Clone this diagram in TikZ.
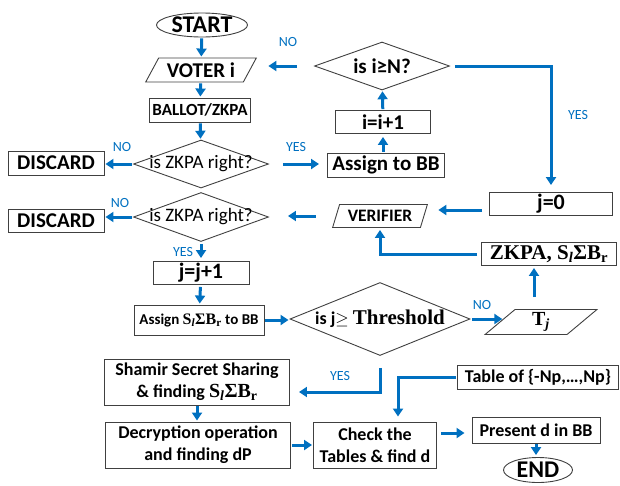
\documentclass[tikz,border=0pt]{standalone}
\usepackage[no-math]{fontspec}
\setmainfont{Carlito}
\newfontfamily\serifb{Liberation Serif}
\usetikzlibrary{arrows.meta,shapes.geometric}
\definecolor{flowblue}{RGB}{0,112,192}
\def\fs#1#2{\fontsize{#1}{#2}\selectfont}
\def\nowidth#1{\makebox[0pt]{#1}}
\def\sumB{{\serifb\bfseries S\textsubscript{\itshape l}ΣB\textsubscript{r}}}
\tikzset{
  box/.style={draw=black!75, line width=0.9pt, inner sep=0pt, align=center},
  term/.style={box, ellipse},
  io/.style={box, trapezium, trapezium stretches=true},
  choice/.style={box, diamond},
  flow/.style={draw=flowblue, line width=3pt, -{Triangle[length=8pt,width=10pt]}, shorten <=1pt, shorten >=1pt},
  tag/.style={text=flowblue, font=\fs{14}{16}, inner sep=0pt},
}

\begin{document}
\begin{tikzpicture}[x=1pt, y=-1pt]
		\useasboundingbox (0,0) rectangle (620,485);
		%%%%% START %%%%%
		
		\node[term, minimum width=91pt, minimum height=24pt, font=\fs{24}{26}\bfseries] (start) at (202,25) {START};
		\node[io, minimum width=111pt, minimum height=24pt, trapezium left angle=55, trapezium right angle=125, font=\fs{21}{24}\bfseries] (voter) at (201,70) {VOTER i};
		\node[box, minimum width=101pt, minimum height=24pt, font=\fs{17}{20}\bfseries] (ballot) at (200,110) {BALLOT/ZKPA};
		\node[choice, minimum width=135pt, minimum height=48pt, font=\fs{19}{22}] (zkpa1) at (201,164) {\nowidth{is ZKPA right?}};
		\node[box, minimum width=96pt, minimum height=24pt, font=\fs{21}{24}\bfseries] (discard1) at (56,163) {DISCARD};
		\node[box, minimum width=117pt, minimum height=24pt, font=\fs{21}{24}\bfseries] (assign) at (386,165) {Assign to BB};
		\node[box, minimum width=95pt, minimum height=23pt, font=\fs{21}{24}\bfseries] (inc) at (383,122) {i=i+1};
		\node[choice, minimum width=135pt, minimum height=48pt, font=\fs{21}{24}\bfseries] (isN) at (382,66) {\nowidth{is i≥N?}};
		
		%%%%% VERIFIER %%%%%
		
		\node[box, minimum width=123pt, minimum height=23pt, font=\fs{22}{24}\bfseries] (jzero) at (551,204) {j=0};
		\node[io, minimum width=95pt, minimum height=23pt, trapezium left angle=64, trapezium right angle=116, font=\fs{17.5}{20}\bfseries] (verifier) at (380,216) {VERIFIER};
		\node[choice, minimum width=135pt, minimum height=49pt, font=\fs{19}{22}] (zkpa2) at (201,217) {\nowidth{is ZKPA right?}};
		\node[box, minimum width=96pt, minimum height=23pt, font=\fs{21}{24}\bfseries] (discard2) at (56,221) {DISCARD};
		\node[box, minimum width=96pt, minimum height=23pt, font=\fs{22}{24}\bfseries] (jinc) at (201,273) {j=j+1};
		\node[box, minimum width=130pt, minimum height=30pt, font=\fs{15}{18}\bfseries] (assignS) at (199,320) {Assign {\fs{16}{18}\sumB} to BB};
		\node[choice, minimum width=180pt, minimum height=73pt, font=\fs{18}{20}\bfseries] (thresh) at (380,319) {\nowidth{is j$\geq$ {\serifb\fs{21}{24}Threshold}}};
		\node[io, minimum width=112pt, minimum height=25pt, trapezium left angle=62, trapezium right angle=118, font=\fs{20}{22}\serifb\bfseries] (tj) at (541,322) {T\textsubscript{\itshape j}};
		\node[box, minimum width=135pt, minimum height=23pt, font=\fs{21}{22}\serifb\bfseries] (zkpabr) at (549,254) {ZKPA, \sumB};
		
		%%%%% DECRYPTION %%%%%
		
		\node[box, minimum width=185pt, minimum height=46pt, font=\fs{18}{22}\bfseries] (shamir) at (197,382) {Shamir Secret Sharing\\ \& finding {\fs{20}{22}\sumB}};
		\node[box, minimum width=185pt, minimum height=46pt, font=\fs{18}{22}\bfseries] (decrypt) at (198,445) {Decryption operation\\ and finding dP};
		\node[box, minimum width=123pt, minimum height=46pt, font=\fs{18}{22}\bfseries] (check) at (375,445) {Check the\\ Tables \& find d};
		\node[box, minimum width=161pt, minimum height=24pt, font=\fs{18}{22}\bfseries] (table) at (538,377) {Table of \{-Np,…,Np\}};
		\node[box, minimum width=128pt, minimum height=26pt, font=\fs{18}{22}\bfseries] (present) at (536,430) {Present d in BB};
		\node[term, minimum width=69pt, minimum height=25pt, font=\fs{24}{26}\bfseries] (stop) at (538,470) {END};
		
		%%%%% LABELS %%%%%
		
		\node[tag] (no1) at (288,42) {NO};
		\node[tag] (no2) at (122,147) {NO};
		\node[tag] (yes1) at (296,147) {YES};
		\node[tag] (no3) at (120,203) {NO};
		\node[tag] (yes2) at (183,252) {YES};
		\node[tag] (no4) at (482,305) {NO};
		\node[tag] (yes3) at (578,115) {YES};
		\node[tag] (yes4) at (340,376) {YES};
		
		%%%%% ARROWS %%%%%
		
		\draw[flow] (start) -- (voter);
		\draw[flow, shorten <=17pt, shorten >=18pt] (isN.west) -- (isN.west -| voter.east);
		\draw[flow] (voter) -- (ballot);
		\draw[flow] (ballot) -- (zkpa1);
		\draw[flow] (zkpa1.west) -- (zkpa1.west -| discard1.east);
		\draw[flow, shorten <=14pt, shorten >=8pt] (zkpa1.east) -- (zkpa1.east -| assign.west);
		\draw[flow, shorten >=3pt] (assign.north -| inc) -- (inc.south);
		\draw[flow] (inc) -- (isN);
		\draw[flow, shorten <=5pt, shorten >=7pt] (isN.east) -| (jzero.north);
		\draw[flow, shorten <=7pt, shorten >=14pt] ([yshift=-6pt]jzero.west) -- ([yshift=-6pt]jzero.west -| verifier.east);
		\draw[flow, shorten <=20pt, shorten >=19pt] (verifier.west) -- (verifier.west -| zkpa2.east);
		\draw[flow] (zkpa2.west) -- (zkpa2.west -| discard2.east);
		\draw[flow, shorten <=2pt, shorten >=3pt] (zkpa2) -- (jinc);
		\draw[flow, shorten <=2pt] (jinc) -- (assignS);
		\draw[flow] (assignS.east) -- (assignS.east -| thresh.west);
		\draw[flow, shorten <=2pt, shorten >=-3pt] (thresh.east) -- (thresh.east -| tj.west);
		\draw[flow, shorten <=12pt, shorten >=2pt] ([xshift=-7pt]tj.north) -- ([xshift=-7pt]tj.north |- zkpabr.south);
		\draw[flow, shorten <=4pt, shorten >=2pt] (zkpabr.west) -| (verifier.south);
		\draw[flow, shorten <=12pt, shorten >=9pt] (thresh.south) |- ([yshift=-10pt]shamir.east);
		\draw[flow] (shamir.south) -- (shamir.south |- decrypt.north);
		\draw[flow] (decrypt) -- (check);
		\draw[flow, shorten >=5pt] (table.west) -| ([xshift=23pt]check.north);
		\draw[flow, shorten <=4pt, shorten >=7pt] ([yshift=12pt]check.east) -- ([yshift=12pt]check.east -| present.west);
		\draw[flow, shorten >=2pt] (present.south) -- (present.south |- stop.north);
		
		%%%%% END %%%%%
	\end{tikzpicture}
\end{document}
